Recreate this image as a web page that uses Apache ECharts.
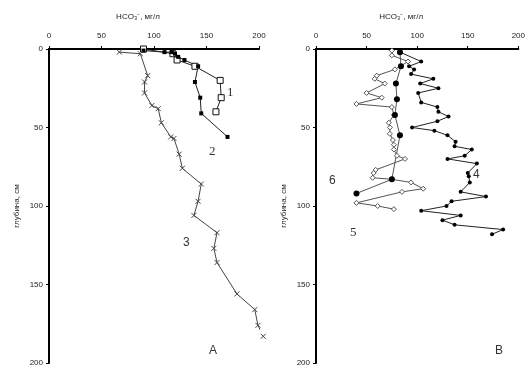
<!DOCTYPE html>
<html>
<head>
<meta charset="utf-8">
<script src="https://cdn.jsdelivr.net/npm/echarts@6/dist/echarts.min.js"></script>
<style>
html, body { margin: 0; padding: 0; background: #fff; }
#chart { width: 528px; height: 367px; }
</style>
</head>
<body>
<div id="chart"></div>
<script>
// Panel A: HCO3- (мг/л) against depth (см)
var a1Depth = [0, 3, 7, 11, 20, 31, 40];
var a1Value = [90, 118, 122, 139, 163, 164, 159];

var a2Depth = [1, 2, 2, 3, 5, 7, 11, 21, 31, 41, 56];
var a2Value = [90, 110, 117, 120, 123, 129, 142, 139, 144, 145, 170];

var a3Depth = [2, 3, 17, 21, 28, 36, 38, 47, 56, 57, 67, 76, 86, 97, 106, 117, 127, 136, 156, 166, 176, 183];
var a3Value = [67, 87, 94, 91, 91, 98, 104, 107, 116, 119, 124, 127, 145, 142, 138, 160, 157, 160, 179, 196, 199, 204];

// Panel B
var b4Depth = [2, 8, 11, 13, 16, 19, 22, 25, 28, 34, 37, 40, 43, 46, 50, 52, 55, 59, 62, 64, 68, 70, 73, 79, 81, 85, 91, 94, 97, 100, 103, 106, 109, 112, 115, 118];
var b4Value = [83, 104, 92, 97, 94, 116, 103, 121, 101, 104, 120, 121, 131, 120, 95, 117, 130, 138, 137, 154, 147, 130, 159, 150, 151, 152, 143, 168, 134, 129, 104, 143, 125, 137, 185, 174];

var b5Depth = [1, 4, 8, 13, 17, 19, 22, 28, 31, 35, 37, 42, 47, 50, 54, 58, 61, 64, 68, 70, 77, 79, 82, 83, 85, 89, 91, 98, 100, 102];
var b5Value = [75, 75, 91, 78, 60, 58, 68, 50, 65, 40, 75, 77, 72, 73, 73, 76, 77, 77, 80, 88, 59, 57, 56, 75, 94, 106, 85, 40, 61, 77];

var b6Depth = [2, 11, 22, 32, 42, 55, 83, 92];
var b6Value = [83, 84, 79, 80, 78, 83, 75, 40];

var xTicks = [0, 50, 100, 150, 200];
var yTicks = [0, 50, 100, 150, 200];

function pairs(vals, depths) {
	var out = [];
	for (var i = 0; i < vals.length; i++) {
		out.push([vals[i], depths[i]]);
	}
	return out;
}

var chart = echarts.init(document.getElementById('chart'));
var font = 'Liberation Sans, Arial, sans-serif';
var crossSymbol = 'path://M0,0L10,10M0,10L10,0';

function xAxisFor(idx) {
	return {
		gridIndex: idx,
		type: 'value',
		position: 'top',
		min: xTicks[0],
		max: xTicks[xTicks.length - 1],
		interval: 50,
		name: 'HCO\u2083\u207B, мг/л',
		nameLocation: 'middle',
		nameGap: 28,
		nameTextStyle: { color: '#222', fontSize: 8, fontFamily: font, padding: [0, 32, 0, 0] },
		axisLine: { lineStyle: { color: '#000', width: 2 } },
		axisTick: { show: true, length: 3, lineStyle: { color: '#000' } },
		axisLabel: { color: '#222', fontSize: 8, fontFamily: font, margin: 9 },
		splitLine: { show: false }
	};
}

function yAxisFor(idx) {
	return {
		gridIndex: idx,
		type: 'value',
		inverse: true,
		min: yTicks[0],
		max: yTicks[yTicks.length - 1],
		interval: 50,
		name: 'глубина, см',
		nameLocation: 'middle',
		nameGap: 28,
		nameTextStyle: { color: '#222', fontSize: 8, fontFamily: font },
		axisLine: { onZero: false, lineStyle: { color: '#000', width: 2 } },
		axisTick: { show: true, length: 3, lineStyle: { color: '#000' } },
		axisLabel: { color: '#222', fontSize: 8, fontFamily: font, margin: 6 },
		splitLine: { show: false }
	};
}

function lineSeries(idx, data, opts) {
	return {
		type: 'line',
		xAxisIndex: idx,
		yAxisIndex: idx,
		data: data,
		clip: false,
		animation: false,
		symbol: opts.symbol,
		symbolSize: opts.size,
		lineStyle: { color: opts.line, width: 1 },
		itemStyle: { color: opts.fill, borderColor: opts.border, borderWidth: opts.bw }
	};
}

function note(text, x, y, serif) {
	return {
		type: 'text',
		left: x,
		top: y,
		style: {
			text: text,
			fill: '#333',
			font: (serif ? '13px "Liberation Serif", serif' : '12px "Liberation Sans", sans-serif')
		}
	};
}

var option = {
	backgroundColor: '#fff',
	grid: [
		{ left: 49, top: 49, width: 210, height: 314 },
		{ left: 316, top: 49, width: 210, height: 314 }
	],
	xAxis: [xAxisFor(0), xAxisFor(1)],
	yAxis: [yAxisFor(0), yAxisFor(1)],
	series: [
		lineSeries(0, pairs(a1Value, a1Depth), { symbol: 'rect', size: 6, line: '#222', fill: '#fff', border: '#111', bw: 1 }),
		lineSeries(0, pairs(a2Value, a2Depth), { symbol: 'rect', size: 4, line: '#222', fill: '#000', border: '#000', bw: 0 }),
		lineSeries(0, pairs(a3Value, a3Depth), { symbol: crossSymbol, size: 5, line: '#444', fill: 'none', border: '#444', bw: 1 }),
		lineSeries(1, pairs(b4Value, b4Depth), { symbol: 'circle', size: 4, line: '#222', fill: '#000', border: '#000', bw: 0 }),
		lineSeries(1, pairs(b5Value, b5Depth), { symbol: 'diamond', size: 5, line: '#555', fill: '#fff', border: '#555', bw: 1 }),
		lineSeries(1, pairs(b6Value, b6Depth), { symbol: 'circle', size: 6, line: '#555', fill: '#000', border: '#000', bw: 0 })
	],
	graphic: [
		note('1', 227, 86, true),
		note('2', 209, 145, true),
		note('3', 183, 237, false),
		note('A', 209, 345, false),
		note('4', 473, 169, false),
		note('5', 350, 226, true),
		note('6', 329, 175, false),
		note('В', 495, 345, false)
	]
};

chart.setOption(option);
</script>
</body>
</html>
